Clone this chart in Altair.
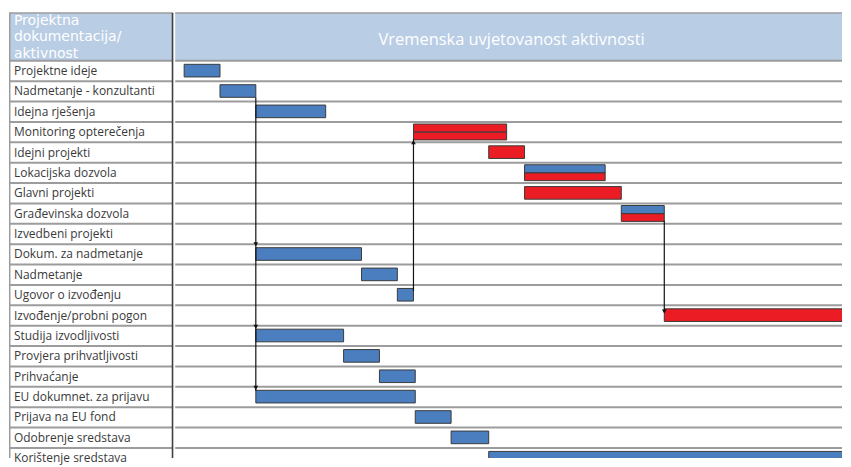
import altair as alt
import pandas as pd

# ---------------- data ----------------
tasks = [
    "Projektne ideje", "Nadmetanje - konzultanti", "Idejna rješenja",
    "Monitoring opterečenja", "Idejni projekti", "Lokacijska dozvola",
    "Glavni projekti", "Građevinska dozvola", "Izvedbeni projekti",
    "Dokum. za nadmetanje", "Nadmetanje", "Ugovor o izvođenju",
    "Izvođenje/probni pogon", "Studija izvodljivosti", "Provjera prihvatljivosti",
    "Prihvaćanje", "EU dokumnet. za prijavu", "Prijava na EU fond",
    "Odobrenje sredstava", "Korištenje sredstava",
]

bar_task = [
    "Projektne ideje", "Nadmetanje - konzultanti", "Idejna rješenja",
    "Monitoring opterečenja", "Monitoring opterečenja", "Idejni projekti",
    "Lokacijska dozvola", "Lokacijska dozvola", "Glavni projekti",
    "Građevinska dozvola", "Građevinska dozvola",
    "Dokum. za nadmetanje", "Nadmetanje", "Ugovor o izvođenju",
    "Izvođenje/probni pogon", "Studija izvodljivosti", "Provjera prihvatljivosti",
    "Prihvaćanje", "EU dokumnet. za prijavu", "Prijava na EU fond",
    "Odobrenje sredstava", "Korištenje sredstava",
]
bar_start = [0, 2, 4, 12.8, 12.8, 17, 19, 19, 19, 24.4, 24.4,
             4, 9.9, 11.9, 26.8, 4, 8.9, 10.9, 4, 12.9, 14.9, 17]
bar_end = [2, 4, 7.9, 18, 18, 19, 23.5, 23.5, 24.4, 26.8, 26.8,
           9.9, 11.9, 12.8, 40, 8.9, 10.9, 12.9, 12.9, 14.9, 17, 40]
bar_kind = ["plava", "plava", "plava", "crvena", "crvena", "crvena",
            "plava", "crvena", "crvena", "plava", "crvena",
            "plava", "plava", "plava", "crvena", "plava", "plava",
            "plava", "plava", "plava", "plava", "plava"]
bar_slot = ["full", "full", "full", "top", "bottom", "full",
            "top", "bottom", "full", "top", "bottom",
            "full", "full", "full", "full", "full", "full",
            "full", "full", "full", "full", "full"]

# dependency connectors (time position, from row, to row)
conn_x = [4, 12.8, 26.8]
conn_from = [1.8, 11.3, 7.85]
conn_to = [16.2, 3.85, 12.3]
marker_x = [4, 4, 4, 12.8, 26.8]
marker_row = [9.0, 13.05, 16.05, 4.0, 12.3]
marker_dir = ["down", "down", "down", "up", "down"]

header_left = ["Projektna", "dokumentacija/", "aktivnost"]
header_right = "Vremenska uvjetovanost aktivnosti"

# ---------------- frames ----------------
slot_off = {"full": (0.17, 0.79), "top": (0.1, 0.5), "bottom": (0.5, 0.88)}
bars = pd.DataFrame({"task": bar_task, "start": bar_start, "end": bar_end,
                     "kind": bar_kind, "slot": bar_slot})
bars["row"] = bars["task"].map(tasks.index)
bars["y1"] = bars["row"] + bars["slot"].map(lambda s: slot_off[s][0])
bars["y2"] = bars["row"] + bars["slot"].map(lambda s: slot_off[s][1])

labels = pd.DataFrame({"task": tasks, "row": range(len(tasks))})
labels["ymid"] = labels["row"] + 0.5
labels["y1"] = labels["row"]
labels["y2"] = labels["row"] + 1

lines = pd.DataFrame({"y": list(range(len(tasks) + 1))})
conns = pd.DataFrame({"x": conn_x, "y1": conn_from, "y2": conn_to})
marks = pd.DataFrame({"x": marker_x, "y": marker_row, "dir": marker_dir})

HEAD_TOP = -2.345
head = pd.DataFrame({"y1": [HEAD_TOP], "y2": [0], "t": [header_right]})
headl = pd.DataFrame({"t": [header_left], "y": [-2.30]})

H = 451
LW = 165
RW = 670
ys = alt.Scale(domain=[-2.54, 19.49], reverse=True, nice=False, zero=False)
xs = alt.Scale(domain=[-0.5, 36.72], nice=False, zero=False)

FONT = "Open Sans"
BLUE = "#4a7ebf"
RED = "#ec1c24"
HEADER = "#b9cde5"
GRID = "#9c9c9c"

# ---------------- left panel (labels) ----------------
l_head = alt.Chart(head).mark_rect(color=HEADER).encode(
    y=alt.Y("y1:Q", scale=ys, axis=None), y2="y2:Q",
    x=alt.value(0), x2=alt.value(LW))
l_head_text = alt.Chart(headl).mark_text(
    font="DejaVu Sans", fontSize=14, color="white", align="left", baseline="top",
    lineHeight=16.4).encode(
    x=alt.value(5), y=alt.Y("y:Q", scale=ys, axis=None), text="t")
l_rows = alt.Chart(labels).mark_rect(color="white").encode(
    y=alt.Y("y1:Q", scale=ys, axis=None), y2="y2:Q",
    x=alt.value(0), x2=alt.value(LW))
l_text = alt.Chart(labels).mark_text(
    font=FONT, fontSize=12, color="#3a3a3a", align="left", baseline="middle").encode(
    x=alt.value(5), y=alt.Y("ymid:Q", scale=ys, axis=None), text="task:N")
l_lines = alt.Chart(lines).mark_rule(color=GRID, strokeWidth=2).encode(
    y=alt.Y("y:Q", scale=ys, axis=None))
l_top = alt.Chart(head).mark_rule(color=GRID, strokeWidth=1.5).encode(
    y=alt.Y("y1:Q", scale=ys, axis=None))
l_border = alt.Chart(head).mark_rule(color=GRID, strokeWidth=1.5).encode(
    x=alt.value(0.75), y=alt.Y("y1:Q", scale=ys, axis=None), y2=alt.value(H))
l_div = alt.Chart(head).mark_rule(color="#404040", strokeWidth=1.6).encode(
    x=alt.value(LW - 0.7), y=alt.Y("y1:Q", scale=ys, axis=None), y2=alt.value(H))

left = alt.layer(l_head, l_head_text, l_rows, l_text, l_lines, l_top,
                 l_border, l_div).properties(width=LW, height=H)

# ---------------- right panel (timeline) ----------------
r_head = alt.Chart(head).mark_rect(color=HEADER).encode(
    y=alt.Y("y1:Q", scale=ys, axis=None), y2="y2:Q",
    x=alt.value(0), x2=alt.value(RW))
r_head_text = alt.Chart(head).mark_text(
    font=FONT, fontSize=16.5, color="white", align="center", baseline="middle").encode(
    x=alt.value(338), y=alt.value(31), text="t:N")
r_lines = alt.Chart(lines).mark_rule(color=GRID, strokeWidth=2).encode(
    y=alt.Y("y:Q", scale=ys, axis=None))
r_top = alt.Chart(head).mark_rule(color=GRID, strokeWidth=1.5).encode(
    y=alt.Y("y1:Q", scale=ys, axis=None))
r_bars = alt.Chart(bars).mark_rect(stroke="#3a3a3a", strokeWidth=1, clip=True).encode(
    x=alt.X("start:Q", scale=xs, axis=None), x2="end:Q",
    y=alt.Y("y1:Q", scale=ys, axis=None), y2="y2:Q",
    color=alt.Color("kind:N", scale=alt.Scale(domain=["plava", "crvena"],
                                              range=[BLUE, RED]), legend=None))
r_conns = alt.Chart(conns).mark_rule(color="#111111", strokeWidth=1.2).encode(
    x=alt.X("x:Q", scale=xs, axis=None),
    y=alt.Y("y1:Q", scale=ys, axis=None), y2="y2:Q")
r_marks = alt.Chart(marks).mark_point(filled=True, color="#111111", opacity=1, size=22).encode(
    x=alt.X("x:Q", scale=xs, axis=None),
    y=alt.Y("y:Q", scale=ys, axis=None),
    shape=alt.Shape("dir:N", scale=alt.Scale(domain=["down", "up"],
                                             range=["triangle-down", "triangle-up"]),
                    legend=None))

right = alt.layer(r_head, r_head_text, r_lines, r_top, r_bars, r_conns,
                  r_marks).properties(width=RW, height=H)

chart = alt.hconcat(left, right, spacing=0).properties(padding=0).configure_view(
    stroke=None).resolve_scale(color="independent", shape="independent")

chart.save("out.html", embed_options={"renderer": "svg", "actions": False})
